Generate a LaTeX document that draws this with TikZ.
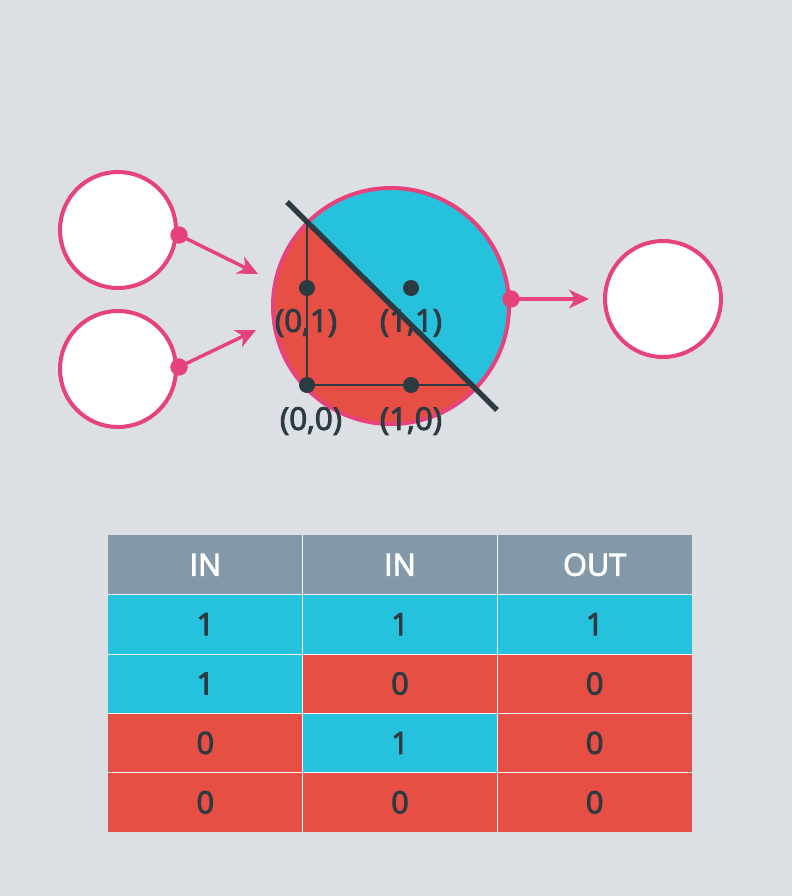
\documentclass[tikz,border=0pt]{standalone}
\usepackage{fontspec}
\setmainfont{Open Sans}
\newfontfamily\semib{Open Sans}[FakeBold=3]
\usetikzlibrary{arrows.meta}
\definecolor{bg}{HTML}{DCE0E5}
\definecolor{pk}{HTML}{E6427C}
\definecolor{bl}{HTML}{26C1DD}
\definecolor{rd}{HTML}{E74F44}
\definecolor{hd}{HTML}{8399AA}
\definecolor{dk}{HTML}{2C3A42}
\begin{document}
\begin{tikzpicture}[x=0.75pt,y=-0.75pt,
  incircle/.style={circle,draw=pk,line width=3pt,fill=white,minimum size=87pt,inner sep=0pt},
  pdot/.style={circle,fill=pk,minimum size=13pt,inner sep=0pt},
  kdot/.style={circle,fill=dk,minimum size=12pt,inner sep=0pt},
  parrow/.style={draw=pk,line width=2.6pt,-{Stealth[length=15pt,width=14pt,inset=4.5pt]}},
  lbl/.style={text=dk,font=\semib\fontsize{23.5}{28}\selectfont,inner sep=0pt},
  cell/.style={minimum width=146pt,minimum height=44.5pt,inner sep=0pt,text=dk,font=\semib\fontsize{23}{27}\selectfont},
  hcell/.style={cell,fill=hd,text=white},
  bcell/.style={cell,fill=bl},
  rcell/.style={cell,fill=rd},
  grid/.style={draw=white!70!bg,line width=0.8pt}
]
\fill[bg] (0,0) rectangle (792,896);
\useasboundingbox (0,0) rectangle (792,896);

% input circles
\node[incircle] (i1) at (118,230) {};
\node[incircle] (i2) at (118,369) {};
% output circle
\node[incircle] (o1) at (663,299) {};

% central neuron
\begin{scope}
  \clip (391,306) circle[radius=118];
  \fill[rd] (391,306) circle[radius=118];
  \fill[bl] (187,103) -- (597,509) -- (597,103) -- cycle;
\end{scope}
\node[circle,draw=pk,line width=3pt,minimum size=177pt,inner sep=0pt] (c) at (391,306) {};

% axes
\coordinate (ytop) at (307,223);
\coordinate (orig) at (307,385);
\coordinate (xend) at (472,385);
\draw[dk,line width=0.9pt] (ytop) -- (orig) -- (xend);

% points
\node[kdot] (p01) at (307,288) {};
\node[kdot] (p11) at (411,288) {};
\node[kdot] (p00) at (307,385) {};
\node[kdot] (p10) at (411,385) {};

% labels
\node[lbl] (l01) at (306,323) {(0,1)};
\node[lbl] (l11) at (411,323) {(1,1)};
\node[lbl] (l00) at (311,421) {(0,0)};
\node[lbl] (l10) at (411,421) {(1,0)};

% separating line
\coordinate (s1) at (287,202);
\coordinate (s2) at (497,410);
\draw[dk,line width=4pt] (s1) -- (s2);

% dots and arrows
\node[pdot] (d1) at (179,235) {};
\node[pdot] (d2) at (179,367) {};
\node[pdot] (d3) at (511,299) {};
\coordinate (a1) at (258,274);
\coordinate (a2) at (256,330);
\coordinate (a3) at (589,299);
\draw[parrow] (d1.center) -- (a1);
\draw[parrow] (d2.center) -- (a2);
\draw[parrow] (d3.center) -- (a3);

% table
\node[hcell] (h1) at (205.35,564.7) {IN};
\node[hcell] (h2) at (400,564.7) {IN};
\node[hcell] (h3) at (594.65,564.7) {OUT};
\node[bcell] (r1c1) at (205.35,624.1) {1};
\node[bcell] (r1c2) at (400,624.1) {1};
\node[bcell] (r1c3) at (594.65,624.1) {1};
\node[bcell] (r2c1) at (205.35,683.5) {1};
\node[rcell] (r2c2) at (400,683.5) {0};
\node[rcell] (r2c3) at (594.65,683.5) {0};
\node[rcell] (r3c1) at (205.35,742.9) {0};
\node[bcell] (r3c2) at (400,742.9) {1};
\node[rcell] (r3c3) at (594.65,742.9) {0};
\node[rcell] (r4c1) at (205.35,802.3) {0};
\node[rcell] (r4c2) at (400,802.3) {0};
\node[rcell] (r4c3) at (594.65,802.3) {0};
% internal grid lines
\draw[grid] (h1.north east) -- (r4c1.south east);
\draw[grid] (h2.north east) -- (r4c2.south east);
\draw[grid] (h1.south west) -- (h3.south east);
\draw[grid] (r1c1.south west) -- (r1c3.south east);
\draw[grid] (r2c1.south west) -- (r2c3.south east);
\draw[grid] (r3c1.south west) -- (r3c3.south east);
\end{tikzpicture}
\end{document}
